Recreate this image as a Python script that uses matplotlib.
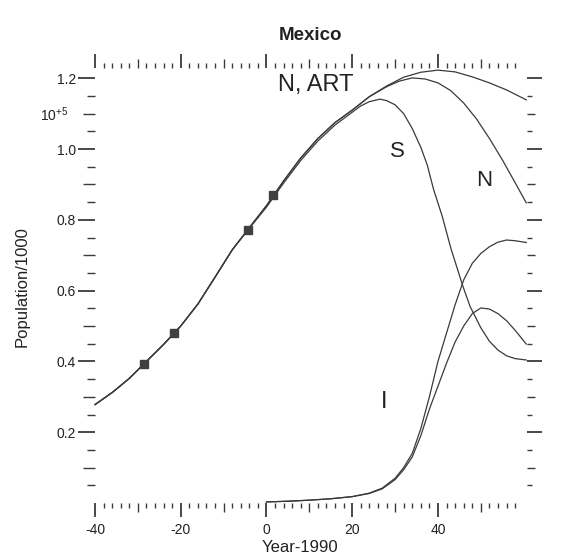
"""
Mexico population projection: total N (with / without ART), susceptibles S
and infected I, in units of 10^5 thousand, against Year-1990.
"""

import matplotlib
matplotlib.use("Agg")
import matplotlib.pyplot as plt


# -------------------------------------------------
# Data
# -------------------------------------------------

# total population with ART
years_n_art = [-40, -36, -32, -28, -24, -20, -16, -12, -8, -4, 0, 4, 8, 12, 16, 20,
               24, 28, 32, 36, 40, 44, 48, 52, 56, 60.6]
pop_n_art = [0.278, 0.312, 0.352, 0.400, 0.448, 0.500, 0.562, 0.638, 0.715, 0.778,
             0.840, 0.910, 0.975, 1.030, 1.075, 1.110,
             1.148, 1.178, 1.203, 1.217, 1.223, 1.218, 1.204, 1.187, 1.167, 1.139]

# total population without ART
years_n = [-40, -36, -32, -28, -24, -20, -16, -12, -8, -4, 0, 4, 8, 12, 16, 20,
           24, 28, 31, 34, 37, 40, 43, 46, 49, 52, 55, 58, 60.6]
pop_n = [0.278, 0.312, 0.352, 0.400, 0.448, 0.500, 0.562, 0.638, 0.715, 0.778,
         0.840, 0.910, 0.975, 1.030, 1.075, 1.110,
         1.148, 1.176, 1.192, 1.201, 1.198, 1.187, 1.165, 1.130, 1.085, 1.030,
         0.970, 0.905, 0.848]

# susceptibles
years_s = [-40, -36, -32, -28, -24, -20, -16, -12, -8, -4, 0, 4, 8, 12, 16, 20,
           22, 24, 26.5, 28, 30, 32, 34, 36, 37.5, 39, 41, 43, 45.8, 47.5, 50,
           52, 54, 56, 58, 60.6]
pop_s = [0.278, 0.312, 0.352, 0.400, 0.448, 0.500, 0.562, 0.638, 0.715, 0.776,
         0.836, 0.904, 0.968, 1.023, 1.068, 1.104,
         1.122, 1.134, 1.141, 1.137, 1.125, 1.100, 1.058, 1.005, 0.955, 0.885,
         0.810, 0.720, 0.613, 0.555, 0.495, 0.457, 0.432, 0.416, 0.408, 0.404]

# infected, with and without ART
years_i = [0, 5, 10, 15, 20, 24, 27, 30, 32, 34, 36, 38, 40, 42, 44, 46, 48,
           50, 52, 54, 56, 58, 60.6]
pop_i_art = [0.003, 0.005, 0.008, 0.012, 0.018, 0.028, 0.042, 0.070, 0.100,
             0.140, 0.210, 0.300, 0.400, 0.480, 0.560, 0.630, 0.677, 0.705,
             0.724, 0.737, 0.743, 0.741, 0.736]
pop_i = [0.003, 0.005, 0.008, 0.012, 0.018, 0.027, 0.040, 0.066, 0.094, 0.130,
         0.190, 0.265, 0.330, 0.395, 0.455, 0.500, 0.535, 0.551, 0.548, 0.535,
         0.515, 0.488, 0.449]

# census points
census_years = [-28.6, -21.6, -4.3, 1.6]
census_pop = [0.392, 0.480, 0.771, 0.869]

# axis ticks
x_major = [-40, -20, 0, 20, 40]
x_major_labels = ["-40", "-20", "0", "20", "40"]
x_mid = [-30, -10, 10, 30, 50]
x_minor = [v for v in range(-38, 59, 2) if v % 10 != 0]

y_major = [0.2, 0.4, 0.6, 0.8, 1.0, 1.2]
y_major_labels = ["0.2", "0.4", "0.6", "0.8", "1.0", "1.2"]
y_mid = [0.1, 0.3, 0.5, 0.7, 0.9, 1.1]
y_mid_labels = ["", "", "", "", "", r"10$^{+5}$"]
y_minor = [0.05, 0.15, 0.25, 0.35, 0.45, 0.55, 0.65, 0.75, 0.85, 0.95, 1.05, 1.15]

INK = "#3a3a3a"


# -------------------------------------------------
# Tick helpers
# -------------------------------------------------

def hide_spines(a):
    for s in a.spines.values():
        s.set_visible(False)


def tick_axis(ax, side, ticks, length, width, labels=None, pad=2.0):
    """Extra axis that only carries a set of ticks on one side."""
    if labels is None:
        labels = [""] * len(ticks)
    if side in ("top", "bottom"):
        sec = ax.secondary_xaxis(side)
        sec.set_xticks(ticks, labels=labels)
    else:
        sec = ax.secondary_yaxis(side)
        sec.set_yticks(ticks, labels=labels)
    sec.tick_params(which="both", direction="out", length=length, width=width,
                    color=INK, labelcolor="#222222", labelsize=10, pad=pad)
    hide_spines(sec)
    return sec


# -------------------------------------------------
# Plot
# -------------------------------------------------

def main():
    plt.rcParams["font.family"] = ["Liberation Sans", "DejaVu Sans"]
    plt.rcParams["mathtext.fontset"] = "custom"
    plt.rcParams["mathtext.rm"] = "Liberation Sans"
    plt.rcParams["mathtext.default"] = "regular"

    fig = plt.figure(figsize=(5.64, 5.6), dpi=100)
    ax = fig.add_axes([95 / 564, 57 / 560, 432 / 564, 435 / 560])

    lw = 0.9
    ax.plot(years_n_art, pop_n_art, color=INK, lw=lw, clip_on=False)
    ax.plot(years_n, pop_n, color=INK, lw=lw, clip_on=False)
    ax.plot(years_s, pop_s, color=INK, lw=lw, clip_on=False)
    ax.plot(years_i, pop_i_art, color=INK, lw=lw, clip_on=False)
    ax.plot(years_i, pop_i, color=INK, lw=lw, clip_on=False)
    ax.plot(census_years, census_pop, ls="none", marker="s", ms=6,
            color="#404040", clip_on=False)

    ax.set_xlim(-40, 60.77)
    ax.set_ylim(0, 1.229)
    hide_spines(ax)

    # bottom + top: major and minor
    ax.set_xticks(x_major, labels=x_major_labels)
    ax.set_xticks(x_minor, minor=True)
    ax.tick_params(axis="x", which="major", direction="out", length=10.4,
                   width=1.3, color=INK, labelsize=10, pad=4, top=True,
                   labelcolor="#222222")
    ax.tick_params(axis="x", which="minor", direction="out", length=3.6,
                   width=1.0, color=INK, top=True)

    # left: major and minor
    ax.set_yticks(y_major, labels=y_major_labels)
    ax.set_yticks(y_minor, minor=True)
    ax.tick_params(axis="y", which="major", direction="out", length=12.2,
                   width=1.3, color=INK, labelsize=10, pad=1.5,
                   labelcolor="#222222")
    ax.tick_params(axis="y", which="minor", direction="out", length=5.8,
                   width=1.0, color=INK)

    # mid-length ticks and the right-hand scale
    tick_axis(ax, "bottom", x_mid, 6.5, 1.0)
    tick_axis(ax, "top", x_mid, 6.5, 1.0)
    tick_axis(ax, "left", y_mid, 8.6, 1.0, labels=y_mid_labels, pad=10.5)
    right = tick_axis(ax, "right", y_major, 10.8, 1.3)
    right.set_yticks(y_minor, minor=True)
    right.tick_params(which="minor", length=3.6, width=1.0, color=INK)
    tick_axis(ax, "right", y_mid, 5.8, 1.0)

    # labels
    fig.text(311 / 564, 1 - 35 / 560, "Mexico", ha="center", va="center",
             fontsize=13.5, fontweight="bold", color="#222222")
    fig.text(300 / 564, 1 - 548 / 560, "Year-1990", ha="center", va="center",
             fontsize=12, color="#222222")
    fig.text(22 / 564, 1 - 287 / 560, "Population/1000", ha="center",
             va="center", rotation=90, fontsize=12, color="#222222")

    # curve labels
    ax.text(11.4, 1.181, "N, ART", ha="center", va="center", fontsize=17,
            color="#222222")
    ax.text(30.6, 0.993, "S", ha="center", va="center", fontsize=16,
            color="#222222")
    ax.text(50.8, 0.91, "N", ha="center", va="center", fontsize=16,
            color="#222222")
    ax.text(27.4, 0.284, "I", ha="center", va="center", fontsize=17,
            color="#222222")

    fig.savefig("out.png", dpi=100)
    plt.close(fig)


if __name__ == "__main__":
    main()
